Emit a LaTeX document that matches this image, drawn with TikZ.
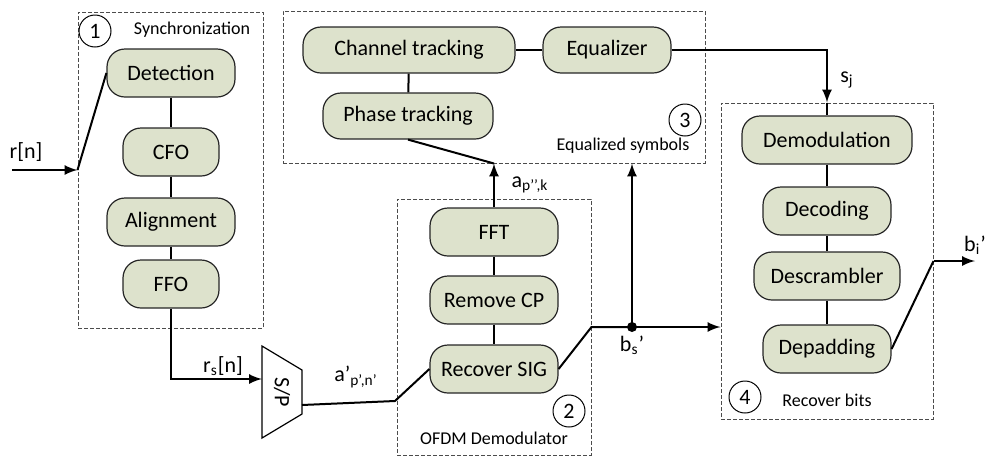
\documentclass[tikz,border=0pt]{standalone}
\usepackage{fontspec}
\setmainfont{Carlito}
\usepackage{tikz}
\usepackage{xcolor}
\definecolor{blockfill}{RGB}{221,226,204}

\begin{document}
\begin{tikzpicture}[x=0.5pt,y=-0.5pt,
  block/.style={draw=black!85,fill=blockfill,rounded corners=9pt,line width=0.6pt,
    minimum height=24pt,inner sep=0pt,font=\fontsize{11}{13}\selectfont},
  grp/.style={draw=black!70,dashed,dash pattern=on 2pt off 1pt,line width=0.5pt,inner sep=0pt},
  num/.style={draw,circle,minimum size=16pt,inner sep=0pt,line width=0.5pt,font=\fontsize{11}{13}\selectfont},
  glabel/.style={font=\fontsize{9}{11}\selectfont},
  slabel/.style={font=\fontsize{11}{13}\selectfont},
  link/.style={line width=1pt},
  sig/.style={line width=1.2pt,-latex}]
  \useasboundingbox (0,0) rectangle (992,456);
  % groups
  \node[grp,minimum width=92.5pt,minimum height=158pt] (sync) at (170.5,170) {};
  \node[grp,minimum width=211pt,minimum height=76pt] (eqbox) at (494,87) {};
  \node[grp,minimum width=97pt,minimum height=128pt] (ofdm) at (494,327) {};
  \node[grp,minimum width=106pt,minimum height=158pt] (bits) at (827,261) {};
  \node[num] (c1) at (95,31) {1};
  \node[num] (c2) at (569,411) {2};
  \node[num] (c3) at (685,120) {3};
  \node[num] (c4) at (745,397) {4};
  \node[glabel] (lsync) at (192,30) {Synchronization};
  \node[glabel] (leq) at (623,146) {Equalized symbols};
  \node[glabel] (lofdm) at (494,438) {OFDM Demodulator};
  \node[glabel] (lbits) at (827,400) {Recover bits};
  % blocks
  \node[block,minimum width=64pt] (det) at (171,73) {Detection};
  \node[block,minimum width=48pt] (cfo) at (171,152) {CFO};
  \node[block,minimum width=64pt] (align) at (171,222) {Alignment};
  \node[block,minimum width=48pt] (ffo) at (171,284) {FFO};
  \node[block,minimum width=106pt,minimum height=23pt] (chan) at (409,50) {Channel tracking};
  \node[block,minimum width=64pt,minimum height=23pt] (equ) at (607,50) {Equalizer};
  \node[block,minimum width=85pt,minimum height=23pt] (phase) at (408,116) {Phase tracking};
  \node[block,minimum width=64pt] (fft) at (494,232) {FFT};
  \node[block,minimum width=64pt] (remcp) at (494,300) {Remove CP};
  \node[block,minimum width=64pt] (rec) at (494,369) {Recover SIG};
  \node[block,minimum width=85pt] (demod) at (827,140) {Demodulation};
  \node[block,minimum width=64pt] (decod) at (827,211) {Decoding};
  \node[block,minimum width=73pt] (descr) at (827,276) {Descrambler};
  \node[block,minimum width=64pt] (depad) at (827,349) {Depadding};
  % S/P
  \node[rotate=-90,font=\fontsize{11}{13}\selectfont] (sp) at (282,392) {S/P};
  \draw[line width=0.6pt] (262,346) -- (302,370) -- (302,414) -- (262,438) -- cycle;
  \coordinate (spin) at (262,379);
  \coordinate (spout) at (302,405);
  \coordinate (rin) at (12,170);
  \coordinate (bend) at (395,401);
  \coordinate (split) at (632,327);
  \coordinate (bout) at (975,261);
  % links
  \draw[link] (det) -- (cfo) -- (align) -- (ffo);
  \draw[link] (chan) -- (phase);
  \draw[link] (chan) -- (equ);
  \draw[link] (fft) -- (remcp) -- (rec);
  \draw[link] (demod) -- (decod) -- (descr) -- (depad);
  % signals
  \draw[sig] (rin) -- (sync.west);
  \draw[link] (sync.west) -- (det.west);
  \draw[sig] (ffo.south) |- (spin);
  \draw[link] (spout) -- (bend) -- (rec.west);
  \draw[link] (rec.east) -- (ofdm.east) -- (split);
  \draw[sig] (split) -- (split -| bits.west);
  \draw[sig] (split) -- (split |- eqbox.south);
  \path[fill=black] (split) circle (2.5pt);
  \draw[sig] (fft.north) -- (fft.north |- eqbox.south);
  \draw[link] (fft.north |- eqbox.south) -- (phase.south);
  \draw[sig] (equ.east) -| (bits.north);
  \draw[link] (bits.north) -- (demod.north);
  \draw[link] (depad.east) -- (bits.east);
  \draw[sig] (bits.east) -- (bout);
  % signal labels
  \node[slabel] (lr) at (26,152) {r[n]};
  \node[slabel] (lrs) at (223,366) {r\textsubscript{s}[n]};
  \node[slabel] (la) at (356,377) {a’\textsubscript{p’,n’}};
  \node[slabel] (lap) at (530,185) {a\textsubscript{p’’,k}};
  \node[slabel] (lbs) at (632,345) {b\textsubscript{s}’};
  \node[slabel] (lsj) at (847,80) {s\textsubscript{j}};
  \node[slabel] (lbi) at (975,245) {b\textsubscript{i}’};
\end{tikzpicture}
\end{document}
